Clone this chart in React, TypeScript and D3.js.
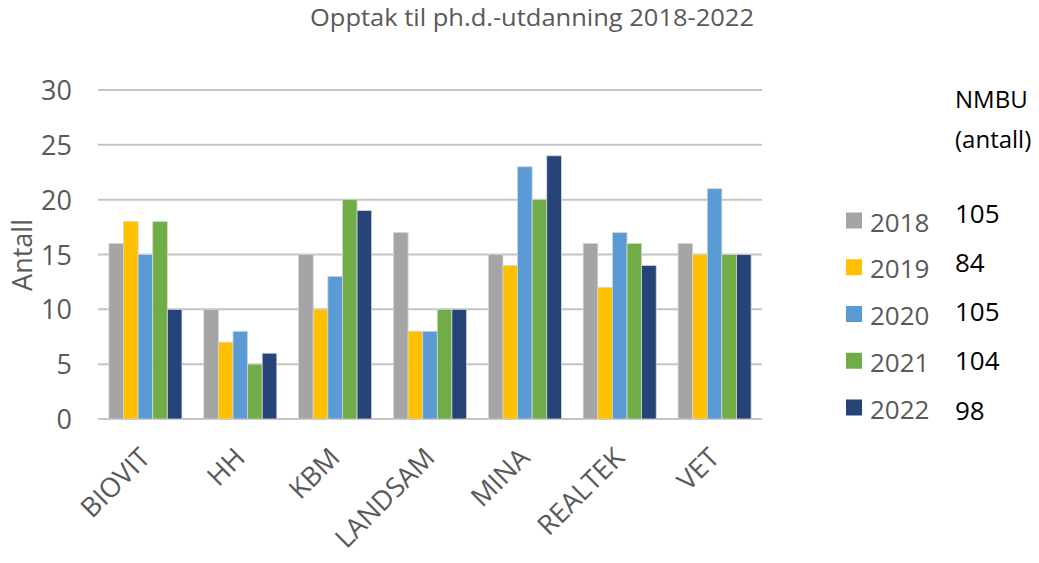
import React from "react";
import * as d3 from "d3";

const categories = ["BIOVIT", "HH", "KBM", "LANDSAM", "MINA", "REALTEK", "VET"];
const years = ["2018", "2019", "2020", "2021", "2022"];
const values2018 = [16, 10, 15, 17, 15, 16, 16];
const values2019 = [18, 7, 10, 8, 14, 12, 15];
const values2020 = [15, 8, 13, 8, 23, 17, 21];
const values2021 = [18, 5, 20, 10, 20, 16, 15];
const values2022 = [10, 6, 19, 10, 24, 14, 15];
const seriesValues = [values2018, values2019, values2020, values2021, values2022];
const colors = ["#A5A5A5", "#FFC000", "#5B9BD5", "#70AD47", "#264478"];
const yTicks = [0, 5, 10, 15, 20, 25, 30];
const nmbuTotals = [105, 84, 105, 104, 98];

const W = 1039;
const H = 563;
const FONT = "'Open Sans', 'Noto Sans', sans-serif";

export default function App() {
  const x = d3
    .scaleBand<string>()
    .domain(categories)
    .range([98, 762])
    .paddingInner(0.23)
    .paddingOuter(0.115);
  const xi = d3.scaleBand<string>().domain(years).range([0, x.bandwidth()]);
  const y = d3.scaleLinear().domain([0, 30]).range([419, 90]);

  return (
    <svg
      width={W}
      height={H}
      style={{ position: "absolute", left: 0, top: 0, background: "#fff" }}
      fontFamily={FONT}
    >
      <text
        x={310}
        y={26}
        fontSize={23}
        fill="#595959"
        textLength={444}
        lengthAdjust="spacingAndGlyphs"
      >
        Opptak til ph.d.-utdanning 2018-2022
      </text>

      {yTicks.map((t) => (
        <g key={t}>
          <line x1={98} x2={762} y1={y(t)} y2={y(t)} stroke="#c4c4c4" strokeWidth={2} />
          <text x={72} y={y(t) + 10} textAnchor="end" fontSize={27} fill="#595959">
            {t}
          </text>
        </g>
      ))}

      <text
        transform={`translate(32,255) rotate(-90)`}
        textAnchor="middle"
        fontSize={27}
        fill="#595959"
      >
        Antall
      </text>

      {categories.map((c, ci) =>
        years.map((yr, si) => {
          const v = seriesValues[si][ci];
          return (
            <rect
              key={c + yr}
              x={(x(c) as number) + (xi(yr) as number)}
              y={y(v)}
              width={xi.bandwidth()}
              height={y(0) - y(v)}
              fill={colors[si]}
              stroke="#d4d4d4"
              strokeWidth={0.8}
            />
          );
        })
      )}

      {categories.map((c) => {
        const cx = (x(c) as number) + x.bandwidth() / 2;
        return (
          <text
            key={c}
            transform={`translate(${cx - 10},${443}) rotate(-45)`}
            textAnchor="end"
            dominantBaseline="hanging"
            fontSize={27}
            fill="#595959"
          >
            {c}
          </text>
        );
      })}

      {years.map((yr, i) => {
        const cy = 220.5 + i * 46.75;
        return (
          <g key={yr}>
            <rect x={846} y={cy - 8} width={16} height={16} fill={colors[i]} />
            <text x={870} y={cy + 11} fontSize={26} fill="#595959">
              {yr}
            </text>
          </g>
        );
      })}

      <text x={955} y={108} fontSize={24} fill="#000">
        NMBU
      </text>
      <text x={955} y={148} fontSize={24} fill="#000">
        (antall)
      </text>
      {nmbuTotals.map((n, i) => (
        <text key={i} x={955} y={222.7 + i * 49.2} fontSize={26} fill="#000">
          {n}
        </text>
      ))}
    </svg>
  );
}
